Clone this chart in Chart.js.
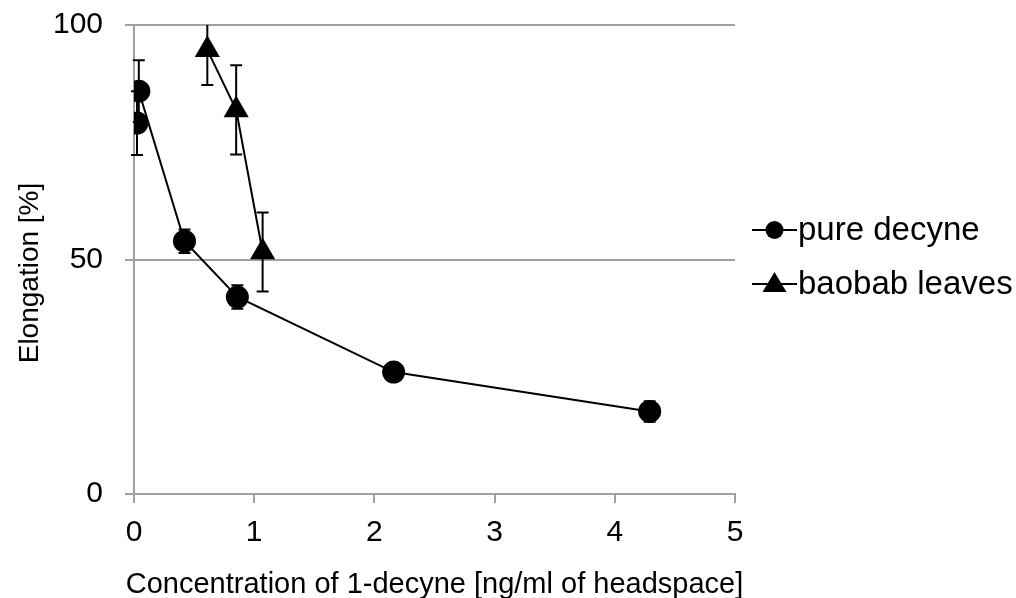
<!DOCTYPE html>
<html>
<head>
<meta charset="utf-8">
<script src="https://cdn.jsdelivr.net/npm/chart.js@4.4.0/dist/chart.umd.min.js"></script>
<style>
  html, body { margin: 0; padding: 0; background: #fff; }
  #wrap { width: 1016px; height: 598px; }
</style>
</head>
<body>
<div id="wrap"><canvas id="c" width="1016" height="598"></canvas></div>
<script>
// ---- data ----
const seriesNames = ["pure decyne", "baobab leaves"];
const decyneX   = [0.025, 0.04, 0.42, 0.86, 2.16, 4.29];
const decyneY   = [79.1, 85.9, 53.9, 42.0, 26.0, 17.6];
const decyneErr = [6.8, 6.6, 2.5, 2.5, 1.0, 2.2];
const baobabX   = [0.61, 0.85, 1.07];
const baobabY   = [94.7, 81.9, 51.6];
const baobabErr = [7.5, 9.5, 8.4];
const xTicks = [0, 1, 2, 3, 4, 5];
const yTicks = [0, 50, 100];
const xTitle = "Concentration of 1-decyne [ng/ml of headspace]";
const yTitle = "Elongation [%]";

const FONT = "'Liberation Sans', Arial, sans-serif";
const GRID = "#a0a0a0";

function pts(xs, ys, es) { return xs.map((x, i) => ({ x: x, y: ys[i], err: es[i] })); }

const errorBars = {
  id: 'errorBars',
  afterDatasetsDraw(chart) {
    const ctx = chart.ctx, xs = chart.scales.x, ys = chart.scales.y, a = chart.chartArea;
    ctx.save();
    ctx.beginPath();
    ctx.rect(a.left - 20, a.top, a.right - a.left + 40, a.bottom - a.top);
    ctx.clip();
    ctx.strokeStyle = '#000';
    ctx.lineWidth = 2;
    chart.data.datasets.forEach(ds => {
      ds.data.forEach(p => {
        const px = xs.getPixelForValue(p.x);
        const top = ys.getPixelForValue(p.y + p.err);
        const bot = ys.getPixelForValue(p.y - p.err);
        ctx.beginPath();
        ctx.moveTo(px, top); ctx.lineTo(px, bot);
        ctx.moveTo(px - 6, top); ctx.lineTo(px + 6, top);
        ctx.moveTo(px - 6, bot); ctx.lineTo(px + 6, bot);
        ctx.stroke();
      });
    });
    ctx.restore();
  }
};

const extraText = {
  id: 'extraText',
  afterDraw(chart) {
    const ctx = chart.ctx, a = chart.chartArea;
    ctx.save();
    // x-axis title
    ctx.font = "29px " + FONT;
    ctx.fillStyle = '#000';
    ctx.textAlign = 'center';
    ctx.textBaseline = 'alphabetic';
    ctx.fillText(xTitle, (a.left + a.right) / 2, 593);
    ctx.restore();

    ctx.save();
    // y-axis title
    ctx.translate(30, 273);
    ctx.rotate(-Math.PI / 2);
    ctx.font = "28px " + FONT;
    ctx.fillStyle = '#000';
    ctx.textAlign = 'center';
    ctx.textBaseline = 'middle';
    ctx.fillText(yTitle, 0, 0);
    ctx.restore();

    // legend
    ctx.save();
    const x0 = 752, lineW = 45;
    const ys = [230, 284];
    chart.data.datasets.forEach((ds, i) => {
      const y = ys[i];
      ctx.strokeStyle = '#000';
      ctx.lineWidth = 2;
      ctx.beginPath(); ctx.moveTo(x0, y); ctx.lineTo(x0 + lineW, y); ctx.stroke();
      ctx.fillStyle = '#000';
      const cx = x0 + lineW / 2;
      if (ds.pointStyle === 'circle') {
        ctx.beginPath(); ctx.arc(cx, y, 9, 0, Math.PI * 2); ctx.fill();
      } else {
        ctx.beginPath();
        ctx.moveTo(cx, y - 12); ctx.lineTo(cx + 12, y + 8); ctx.lineTo(cx - 12, y + 8);
        ctx.closePath(); ctx.fill();
      }
      ctx.font = "33px " + FONT;
      ctx.textBaseline = 'middle';
      ctx.textAlign = 'left';
      ctx.fillText(ds.label, x0 + lineW + 1, y + 1);
    });
    ctx.restore();
  }
};

new Chart(document.getElementById('c'), {
  type: 'scatter',
  data: {
    datasets: [
      {
        label: seriesNames[0],
        data: pts(decyneX, decyneY, decyneErr),
        showLine: true,
        borderColor: '#000',
        borderWidth: 2,
        backgroundColor: '#000',
        pointStyle: 'circle',
        pointRadius: 11.5,
        pointHoverRadius: 11.5,
        pointBorderWidth: 0
      },
      {
        label: seriesNames[1],
        data: pts(baobabX, baobabY, baobabErr),
        showLine: true,
        borderColor: '#000',
        borderWidth: 2,
        backgroundColor: '#000',
        pointStyle: 'triangle',
        pointRadius: 14.5,
        pointHoverRadius: 14.5,
        pointBorderWidth: 0
      }
    ]
  },
  options: {
    responsive: false,
    animation: false,
    devicePixelRatio: 1,
    layout: { padding: { left: 0, right: 281, top: 25, bottom: 0 } },
    plugins: { legend: { display: false }, tooltip: { enabled: false } },
    scales: {
      x: {
        type: 'linear',
        min: 0, max: 5,
        afterBuildTicks: s => { s.ticks = xTicks.map(v => ({ value: v })); },
        afterFit: s => { s.height = 104; s.paddingLeft = 0; s.paddingRight = 0; },
        grid: { drawOnChartArea: false, drawTicks: true, tickLength: 9, color: GRID, lineWidth: 2 },
        border: { display: true, color: GRID, width: 2 },
        ticks: { color: '#000', font: { family: FONT, size: 30 }, padding: 12, maxRotation: 0 },
        title: { display: false }
      },
      y: {
        type: 'linear',
        min: 0, max: 100,
        afterBuildTicks: s => { s.ticks = yTicks.map(v => ({ value: v })); },
        afterFit: s => { s.width = 134; s.paddingTop = 0; s.paddingBottom = 0; },
        grid: { drawOnChartArea: true, drawTicks: true, tickLength: 9, color: GRID, lineWidth: 2 },
        border: { display: true, color: GRID, width: 2 },
        ticks: { color: '#000', font: { family: FONT, size: 30 }, padding: 22 },
        title: { display: false }
      }
    }
  },
  plugins: [errorBars, extraText]
});
</script>
</body>
</html>
